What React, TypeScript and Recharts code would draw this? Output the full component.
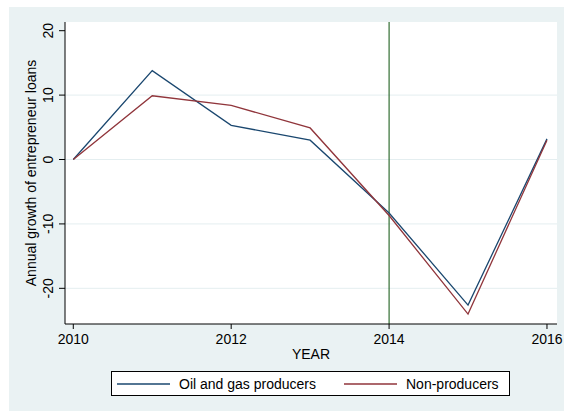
import { LineChart, Line, XAxis, YAxis, CartesianGrid, ReferenceLine, Label } from 'recharts'

const YEARS = [2010, 2011, 2012, 2013, 2014, 2015, 2016]
const OIL_GAS = [0, 13.8, 5.3, 3.0, -8.3, -22.6, 3.2]
const NON_PRODUCERS = [0, 9.9, 8.4, 4.9, -8.7, -24.0, 3.0]

const X_TICKS = [2010, 2012, 2014, 2016]
const Y_TICKS = [-20, -10, 0, 10, 20]
const GRID_VALUES = [-20, -10, 0, 10]
const SHOCK_YEAR = 2014

const NAVY = '#1a476f'
const MAROON = '#90353b'
const BG = '#eaf2f3'
const FONT = '"Liberation Sans", Arial, Helvetica, sans-serif'

const data = YEARS.map((year, i) => ({
  year,
  oilGas: OIL_GAS[i],
  nonProducers: NON_PRODUCERS[i],
}))

// rotated y tick labels, stata style
const YTick = (props: any) => {
  const { x, y, payload } = props
  return (
    <text transform={`translate(${x},${y}) rotate(-90)`} textAnchor="middle" fontSize={14} fill="#000" fontFamily={FONT}>
      {payload.value}
    </text>
  )
}

const YTitle = (props: any) => {
  const { viewBox } = props
  const cx = viewBox.x + 26.6
  const cy = viewBox.y + viewBox.height / 2
  return (
    <text transform={`translate(${cx},${cy}) rotate(-90)`} textAnchor="middle" fontSize={14} fill="#000" fontFamily={FONT}>
      Annual growth of entrepreneur loans
    </text>
  )
}

function LegendBox() {
  const item = (color: string, label: string, left: number) => (
    <div style={{ position: 'absolute', left, top: 0, height: 23, display: 'flex', alignItems: 'center' }}>
      <svg width={53} height={4} style={{ marginRight: 9, display: 'block' }}>
        <line x1={0} x2={53} y1={2} y2={2} stroke={color} strokeWidth={1.3} />
      </svg>
      <span style={{ fontSize: 14, color: '#000', lineHeight: 1, whiteSpace: 'nowrap' }}>{label}</span>
    </div>
  )
  return (
    <div
      style={{
        position: 'absolute',
        left: 111,
        top: 371,
        width: 397,
        height: 23,
        background: '#fff',
        border: '1px solid #000',
        fontFamily: FONT,
      }}
    >
      {item(NAVY, 'Oil and gas producers', 5)}
      {item(MAROON, 'Non-producers', 232)}
    </div>
  )
}

export default function App() {
  return (
    <div style={{ position: 'fixed', left: 0, top: 0, width: 564, height: 411, background: '#fff', fontFamily: FONT }}>
      <div style={{ position: 'absolute', left: 9, top: 7, right: 0, bottom: 0, background: BG }} />
      <div style={{ position: 'absolute', left: 0, top: 0 }}>
        <LineChart width={564} height={411} data={data} margin={{ top: 22, right: 7, left: 9, bottom: 47 }}>
          <CartesianGrid
            vertical={false}
            horizontalValues={GRID_VALUES}
            stroke="#e4eef0"
            strokeWidth={1}
            fill="#fff"
            fillOpacity={1}
          />
          <XAxis
            dataKey="year"
            type="number"
            domain={[2009.895, 2016.127]}
            allowDataOverflow
            ticks={X_TICKS}
            height={40}
            tickSize={5}
            tickMargin={5.3}
            stroke="#000"
            tick={{ fill: '#000', fontSize: 14, fontFamily: FONT }}
            label={{ value: 'YEAR', position: 'insideBottom', offset: 4.7, fill: '#000', fontSize: 14, fontFamily: FONT }}
          />
          <YAxis
            type="number"
            domain={[-25.54, 21.35]}
            allowDataOverflow
            ticks={Y_TICKS}
            width={56}
            tickSize={6}
            tickMargin={5.7}
            stroke="#000"
            tick={<YTick />}
          >
            <Label content={<YTitle />} />
          </YAxis>
          <ReferenceLine x={SHOCK_YEAR} stroke="#0a520a" strokeWidth={1} />
          <Line type="linear" dataKey="oilGas" stroke={NAVY} strokeWidth={1.3} dot={false} isAnimationActive={false} />
          <Line type="linear" dataKey="nonProducers" stroke={MAROON} strokeWidth={1.3} dot={false} isAnimationActive={false} />
        </LineChart>
      </div>
      <LegendBox />
    </div>
  )
}
